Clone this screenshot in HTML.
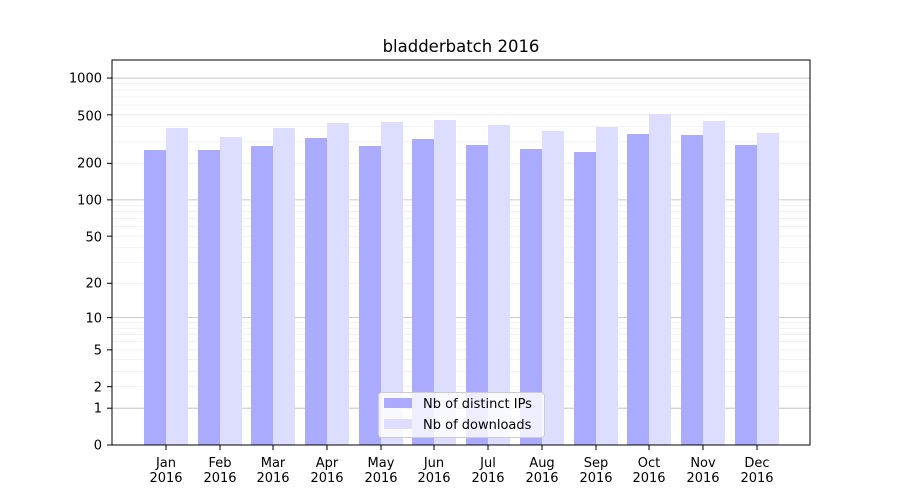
<!DOCTYPE html>
<html><head><meta charset="utf-8"><style>body{margin:0;background:#fff}svg{display:block;font-family:"DejaVu Sans","Liberation Sans",sans-serif}</style></head>
<body>
<svg id="s" width="900" height="500" xmlns="http://www.w3.org/2000/svg">
<rect width="900" height="500" fill="#fff"/>
<g id="grid"></g>
<g id="bars"></g>
<rect x="112" y="60" width="698" height="385" fill="none" stroke="#000" stroke-width="1"/>
<text x="461" y="52" font-size="16.5" text-anchor="middle">bladderbatch 2016</text>
<g font-size="13" text-anchor="end" id="yl">
<text x="102" y="449.5">0</text>
<text x="102" y="412.5">1</text>
<text x="102" y="391.5">2</text>
<text x="102" y="354.5">5</text>
<text x="102" y="322.5">10</text>
<text x="102" y="287.5">20</text>
<text x="102" y="241.5">50</text>
<text x="102" y="204.5">100</text>
<text x="102" y="167.5">200</text>
<text x="102" y="120.5">500</text>
<text x="102" y="82.5">1000</text>
</g>
<g font-size="13" text-anchor="middle" id="xl">
<text x="166" y="467">Jan</text><text x="166" y="482">2016</text>
<text x="220" y="467">Feb</text><text x="220" y="482">2016</text>
<text x="273" y="467">Mar</text><text x="273" y="482">2016</text>
<text x="327" y="467">Apr</text><text x="327" y="482">2016</text>
<text x="381" y="467">May</text><text x="381" y="482">2016</text>
<text x="434" y="467">Jun</text><text x="434" y="482">2016</text>
<text x="488" y="467">Jul</text><text x="488" y="482">2016</text>
<text x="542" y="467">Aug</text><text x="542" y="482">2016</text>
<text x="596" y="467">Sep</text><text x="596" y="482">2016</text>
<text x="649" y="467">Oct</text><text x="649" y="482">2016</text>
<text x="703" y="467">Nov</text><text x="703" y="482">2016</text>
<text x="757" y="467">Dec</text><text x="757" y="482">2016</text>
</g>
<g>
<rect x="378.5" y="392.5" width="166" height="45" rx="3" fill="#fff" fill-opacity="0.8" stroke="#ccc"/>
<rect x="384" y="398" width="28" height="10" fill="#aaaaff"/>
<rect x="384" y="419" width="28" height="10" fill="#ddddff"/>
<text x="423" y="408" font-size="13">Nb of distinct IPs</text>
<text x="423" y="429" font-size="13">Nb of downloads</text>
</g>
</svg>
<script>
var NS="http://www.w3.org/2000/svg";
function y(v){return 445-122.3*Math.log10(1+v);}
function el(p,t,a){var e=document.createElementNS(NS,t);for(var k in a)e.setAttribute(k,a[k]);p.appendChild(e);return e;}
var g=document.getElementById('grid'),b=document.getElementById('bars');
[1,10,100,1000].forEach(function(d){for(var m=2;m<10;m++){var v=d*m;if(y(v)<60)break;el(g,'line',{x1:112,x2:810,y1:y(v),y2:y(v),stroke:'#eee','stroke-width':0.8});}});
[0,1,10,100,1000].forEach(function(v){el(g,'line',{x1:112,x2:810,y1:y(v),y2:y(v),stroke:'#bbb','stroke-width':0.8});});
var dk=[150,150,146,138,146,139,145,149,152,134,135,145];
var lt=[128,137,128,123,122,120,125,131,127,114,121,133];
var xs=[166,220,273,327,381,434,488,542,596,649,703,757];
for(var i=0;i<12;i++){
el(b,'rect',{x:xs[i]-22,y:dk[i],width:22,height:445-dk[i],fill:'#aaaaff'});
el(b,'rect',{x:xs[i],y:lt[i],width:22,height:445-lt[i],fill:'#ddddff'});
el(b,'line',{x1:xs[i],x2:xs[i],y1:445,y2:450,stroke:'#000'});
}
var s=document.getElementById('s');
[0,1,2,5,10,20,50,100,200,500,1000].forEach(function(v){el(s,'line',{x1:107,x2:112,y1:y(v),y2:y(v),stroke:'#000'});});
</script>
</body></html>
